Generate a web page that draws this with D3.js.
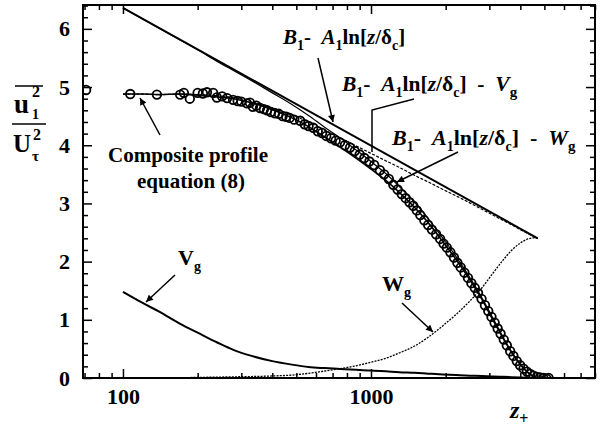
<!DOCTYPE html>
<html><head><meta charset="utf-8">
<script src="https://cdn.jsdelivr.net/npm/d3@7"></script>
<style>
body{margin:0;background:#fff;}
svg{display:block;}
text{font-family:"Liberation Serif","Times New Roman",serif;font-weight:bold;fill:#000;}
</style></head>
<body><svg id="c" width="600" height="427"></svg>
<script>
// ---- data ----
const zGrid = [100,120,140,170,200,240,280,330,400,480,560,650,750,870,1000,1150,1300,1500,1700,1950,2200,2500,2800,3100,3400,3700,4000,4300,4600,4700];
const vgValues = [1.48,1.29,1.14,0.93,0.78,0.61,0.48,0.38,0.29,0.23,0.19,0.17,0.155,0.14,0.13,0.115,0.10,0.09,0.075,0.06,0.05,0.04,0.035,0.025,0.02,0.015,0.01,0.005,0,0];
const wgValues = [0,0,0,0.005,0.01,0.015,0.02,0.025,0.035,0.05,0.08,0.12,0.16,0.21,0.27,0.34,0.43,0.55,0.70,0.90,1.09,1.32,1.55,1.80,2.02,2.20,2.32,2.39,2.41,2.40];
const compositeValues = [4.88,4.88,4.87,4.88,4.86,4.83,4.80,4.73,4.61,4.47,4.32,4.14,3.97,3.78,3.59,3.39,3.19,2.93,2.67,2.34,2.04,1.69,1.35,1.00,0.69,0.43,0.23,0.09,0.01,0];
const minusVgValues = [4.88,4.88,4.87,4.88,4.87,4.85,4.82,4.75,4.64,4.52,4.40,4.26,4.13,3.99,3.86,3.73,3.62,3.48,3.37,3.24,3.13,3.01,2.90,2.80,2.71,2.63,2.55,2.48,2.42,2.40];
const minusWgValues = [6.36,6.17,6.01,5.81,5.64,5.44,5.28,5.11,4.90,4.70,4.51,4.31,4.13,3.92,3.72,3.51,3.29,3.02,2.74,2.40,2.09,1.73,1.38,1.03,0.71,0.44,0.24,0.10,0.01,0];
const logLawZ = [100,4700];
const logLawValues = [6.36,2.40];
const dataZ = [71,107,137,170,176,186,200,210,218,231,239,251,263,278,290,300,316,325,334,345,357,370,381,395,410,425,440,455,470,490,518,540,560,585,610,635,660,690,720,750,785,823,860,900,940,985,1030,1086,1130,1180,1230,1280,1330,1380,1430,1480,1530,1580,1640,1700,1760,1830,1900,1960,2022,2090,2160,2230,2300,2380,2460,2540,2620,2700,2790,2880,2970,3060,3150,3240,3330,3430,3530,3640,3750,3870,3990,4120,4250,4380,4520,4660,4800,4950,5100,5200];
const dataV = [4.95,4.88,4.87,4.87,4.90,4.80,4.90,4.89,4.91,4.90,4.82,4.84,4.81,4.78,4.76,4.75,4.72,4.73,4.66,4.68,4.64,4.62,4.60,4.57,4.55,4.54,4.50,4.49,4.47,4.44,4.42,4.36,4.33,4.30,4.24,4.21,4.16,4.12,4.08,4.05,4.00,3.96,3.90,3.84,3.78,3.72,3.66,3.57,3.50,3.42,3.32,3.24,3.16,3.09,3.02,2.96,2.88,2.80,2.71,2.63,2.55,2.47,2.39,2.31,2.24,2.16,2.07,1.98,1.90,1.81,1.72,1.63,1.55,1.46,1.36,1.25,1.15,1.05,0.95,0.85,0.76,0.66,0.56,0.46,0.38,0.29,0.22,0.16,0.11,0.07,0.04,0.02,0.01,0.0,-0.01,0.0];
const yTicks = [0,1,2,3,4,5,6];
const xTicks = [100,1000];
const xMinorTicks = [70,80,90,200,300,400,500,600,700,800,900,2000,3000,4000,5000,6000,7000,8000];

// ---- layout ----
const svg = d3.select("#c");
const L=83, R=595, T=5, B=378;
const x = d3.scaleLog().domain([69,8000]).range([L,R]);
const y = d3.scaleLinear().domain([0,6.41]).range([B,T]);
const yMinor = d3.range(0,6.41,0.2).filter(v=>Math.abs(v-Math.round(v))>1e-6);

svg.append("rect").attr("width",600).attr("height",427).attr("fill","#fff");
const defs = svg.append("defs");
defs.append("clipPath").attr("id","clip").append("rect").attr("x",L).attr("y",T).attr("width",R-L).attr("height",B-T);
defs.append("marker").attr("id","ah").attr("viewBox","0 0 10 10").attr("refX",10).attr("refY",5)
  .attr("markerWidth",8).attr("markerHeight",7).attr("markerUnits","userSpaceOnUse").attr("orient","auto")
  .append("path").attr("d","M0,0 L10,5 L0,10 Z").attr("fill","#000");

function styleAxis(g){ g.select(".domain").remove(); g.selectAll("line").attr("stroke","#000").attr("stroke-width",1.5);
  g.selectAll("text").style("font-family","Liberation Serif").style("font-weight","bold").style("font-size","22px").attr("fill","#000"); }

// bottom
svg.append("g").attr("transform",`translate(0,${B})`).call(d3.axisBottom(x).tickValues(xTicks).tickSize(-9).tickPadding(10).tickFormat(d3.format("d"))).call(styleAxis);
svg.append("g").attr("transform",`translate(0,${B})`).call(d3.axisBottom(x).tickValues(xMinorTicks).tickSize(-5).tickFormat("")).call(styleAxis);
// top
svg.append("g").attr("transform",`translate(0,${T})`).call(d3.axisTop(x).tickValues(xTicks).tickSize(-9).tickFormat("")).call(styleAxis);
svg.append("g").attr("transform",`translate(0,${T})`).call(d3.axisTop(x).tickValues(xMinorTicks).tickSize(-5).tickFormat("")).call(styleAxis);
// left
svg.append("g").attr("transform",`translate(${L},0)`).call(d3.axisLeft(y).tickValues(yTicks).tickSize(-9).tickPadding(13).tickFormat(d3.format("d"))).call(styleAxis);
svg.append("g").attr("transform",`translate(${L},0)`).call(d3.axisLeft(y).tickValues(yMinor).tickSize(-5).tickFormat("")).call(styleAxis);
// right
svg.append("g").attr("transform",`translate(${R},0)`).call(d3.axisRight(y).tickValues(yTicks).tickSize(-9).tickFormat("")).call(styleAxis);
svg.append("g").attr("transform",`translate(${R},0)`).call(d3.axisRight(y).tickValues(yMinor).tickSize(-5).tickFormat("")).call(styleAxis);

svg.append("rect").attr("x",L).attr("y",T).attr("width",R-L).attr("height",B-T).attr("fill","none").attr("stroke","#000").attr("stroke-width",2);

// ---- curves ----
const plot = svg.append("g").attr("clip-path","url(#clip)");
const line = d3.line().x(d=>x(d[0])).y(d=>y(d[1])).curve(d3.curveMonotoneX);
function curve(zs, vs, w, dash){
  plot.append("path").datum(zs.map((z,i)=>[z,vs[i]])).attr("d",line).attr("fill","none")
    .attr("stroke","#000").attr("stroke-width",w).attr("stroke-dasharray",dash||null);
}
curve(logLawZ, logLawValues, 2);
curve(zGrid, minusVgValues, 1.2, "3,1.5");
curve(zGrid, minusWgValues, 1.2);
curve(zGrid, compositeValues, 1.6);
curve(zGrid, vgValues, 2);
curve(zGrid, wgValues, 1.3, "2,1.2");

plot.append("g").selectAll("circle").data(dataZ.map((z,i)=>[z,dataV[i]])).join("circle")
  .attr("cx",d=>x(d[0])).attr("cy",d=>y(d[1])).attr("r",4.3)
  .attr("fill","none").attr("stroke","#000").attr("stroke-width",1.8);

// ---- annotations ----
function arrow(pts, head){
  svg.append("path").attr("d","M"+pts.map(p=>p.join(",")).join("L")).attr("fill","none")
    .attr("stroke","#000").attr("stroke-width",1.5).attr("marker-end",head?"url(#ah)":null);
}
arrow([[160,135],[140,98]],true);
arrow([[318,58],[333,122]],true);
arrow([[414,99],[372,110],[372,152]],false);
arrow([[458,152],[397,182]],true);
arrow([[175,275],[146,302]],true);
arrow([[402,303],[433,332]],true);

function rich(xp, yp, parts, size){
  const t = svg.append("text").attr("x",xp).attr("y",yp).style("font-size",size+"px");
  let shift=0;
  parts.forEach(p=>{
    const s = t.append("tspan").text(p.t);
    const target = p.sub? 6 : (p.sup? -9 : 0);
    s.attr("dy", target-shift); shift=target;
    if(p.i) s.style("font-style","italic");
    if(p.sub||p.sup) s.style("font-size",(p.fs||Math.round(size*0.65))+"px");
  });
  return t;
}
const NB = "\u00a0";
const lawParts = [{t:"B",i:1},{t:"1",sub:1},{t:"-"+NB+NB},{t:"A",i:1},{t:"1",sub:1},{t:"ln["},{t:"z",i:1},{t:"/δ"},{t:"c",sub:1},{t:"]"}];
rich(283,44,lawParts,21);
rich(342,91,lawParts.concat([{t:NB+NB+"-"+NB+NB},{t:"V",i:1},{t:"g",sub:1,fs:15}]),21.5);
rich(392,145,lawParts.concat([{t:NB+NB+"-"+NB+NB},{t:"W",i:1},{t:"g",sub:1,fs:15}]),22);
rich(178,265,[{t:"V"},{t:"g",sub:1}],22);
rich(382,291,[{t:"W"},{t:"g",sub:1}],22);
svg.append("text").attr("x",108).attr("y",162).style("font-size","21px").text("Composite profile");
svg.append("text").attr("x",137).attr("y",188).style("font-size","21px").text("equation (8)");
rich(510,418,[{t:"z",i:1},{t:"+",sub:1}],24);

// y-axis label (fraction) with stacked sub/superscripts
function txt(xp, yp, s, size, italic){
  svg.append("text").attr("x",xp).attr("y",yp).style("font-size",size+"px").style("font-style",italic?"italic":null).text(s);
}
svg.append("line").attr("x1",15).attr("x2",43).attr("y1",86).attr("y2",86).attr("stroke","#000").attr("stroke-width",1.5);
txt(14,113,"u",27);
txt(32,119,"1",14);
txt(32,97,"2",16);
svg.append("line").attr("x1",12).attr("x2",46).attr("y1",124).attr("y2",124).attr("stroke","#000").attr("stroke-width",1.5);
txt(13,152,"U",25);
txt(32,161,"τ",15);
txt(33,140,"2",16);
</script></body></html>
